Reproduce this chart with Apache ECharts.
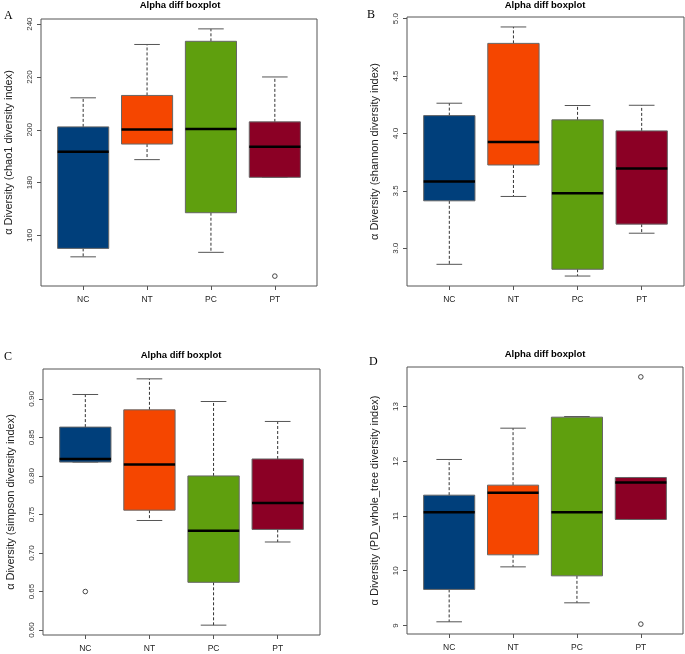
<!DOCTYPE html>
<html>
<head>
<meta charset="utf-8">
<script src="https://cdn.jsdelivr.net/npm/echarts@6/dist/echarts.min.js"></script>
<style>html,body{margin:0;padding:0;background:#fff}#c{width:685px;height:654px}</style>
</head>
<body>
<div id="c"></div>
<script>
// ---------- data ----------
const categories = ['NC', 'NT', 'PC', 'PT'];
// each row: [lower whisker, Q1, median, Q3, upper whisker]
const chao1 = [
  [151.9, 155.1, 191.7, 201.1, 212.1],
  [188.7, 194.6, 200.1, 213.0, 232.3],
  [153.6, 168.6, 200.3, 233.5, 238.2],
  [182.0, 182.0, 193.6, 203.0, 220.0]
];
const chao1Outliers = [['PT', 144.6]];
const shannon = [
  [2.860, 3.413, 3.582, 4.155, 4.263],
  [3.451, 3.725, 3.926, 4.784, 4.927],
  [2.758, 2.817, 3.480, 4.118, 4.243],
  [3.131, 3.210, 3.695, 4.022, 4.245]
];
const shannonOutliers = [];
const simpson = [
  [0.8180, 0.8180, 0.8220, 0.8634, 0.9057],
  [0.7422, 0.7556, 0.8147, 0.8858, 0.9260],
  [0.6064, 0.6620, 0.7290, 0.8000, 0.8966],
  [0.7143, 0.7306, 0.7650, 0.8220, 0.8707]
];
const simpsonOutliers = [['NC', 0.650]];
const pdTree = [
  [9.066, 9.658, 11.070, 11.380, 12.032],
  [10.070, 10.290, 11.422, 11.563, 12.604],
  [9.413, 9.906, 11.070, 12.805, 12.817],
  [10.936, 10.936, 11.612, 11.703, 11.703]
];
const pdTreeOutliers = [['PT', 13.541], ['PT', 9.024]];
const ticksA = [160, 180, 200, 220, 240];
const ticksB = [3.0, 3.5, 4.0, 4.5, 5.0];
const ticksC = [0.60, 0.65, 0.70, 0.75, 0.80, 0.85, 0.90];
const ticksD = [9, 10, 11, 12, 13];
const titleText = 'Alpha diff boxplot';
const yNames = [
  'α Diversity (chao1 diversity index)',
  'α Diversity (shannon diversity index)',
  'α Diversity (simpson diversity index)',
  'α Diversity (PD_whole_tree diversity index)'
];
const panelLetters = ['A', 'B', 'C', 'D'];

// ---------- styles / layout ----------
const boxColors = ['#003F7B', '#F54600', '#5F9F0E', '#8B0025'];
const FONT = '"Liberation Sans", Arial, Helvetica, sans-serif';
const panels = [
  { stats: chao1, out: chao1Outliers, ticks: ticksA, dec: 0, grid: { left: 41, top: 19, width: 276, height: 267 } },
  { stats: shannon, out: shannonOutliers, ticks: ticksB, dec: 1, grid: { left: 407, top: 17, width: 277, height: 269 } },
  { stats: simpson, out: simpsonOutliers, ticks: ticksC, dec: 2, grid: { left: 43, top: 369, width: 277, height: 266 } },
  { stats: pdTree, out: pdTreeOutliers, ticks: ticksD, dec: 0, grid: { left: 407, top: 367, width: 276, height: 267 } }
];
const titlePos = [[180, 0], [545, 0], [181, 350], [545, 349]];
const letterPos = [[4, 10], [367, 9], [4, 351], [369, 356]];

function renderBox(params, api) {
  const x = api.value(0);
  const lo = api.value(1), q1 = api.value(2), med = api.value(3), q3 = api.value(4), hi = api.value(5);
  const color = boxColors[params.dataIndex];
  const cx = api.coord([x, q1])[0];
  const xL = api.coord([x - 0.4, q1])[0], xR = api.coord([x + 0.4, q1])[0];
  const cL = api.coord([x - 0.2, q1])[0], cR = api.coord([x + 0.2, q1])[0];
  const yLo = api.coord([x, lo])[1], yQ1 = api.coord([x, q1])[1], yMed = api.coord([x, med])[1];
  const yQ3 = api.coord([x, q3])[1], yHi = api.coord([x, hi])[1];
  const dash = { stroke: '#333', lineWidth: 1, lineDash: [3, 2] };
  const cap = { stroke: '#555', lineWidth: 1 };
  return {
    type: 'group',
    children: [
      { type: 'line', shape: { x1: cx, y1: yQ3, x2: cx, y2: yHi }, style: dash },
      { type: 'line', shape: { x1: cx, y1: yQ1, x2: cx, y2: yLo }, style: dash },
      { type: 'line', shape: { x1: cL, y1: yHi, x2: cR, y2: yHi }, style: cap },
      { type: 'line', shape: { x1: cL, y1: yLo, x2: cR, y2: yLo }, style: cap },
      { type: 'rect', shape: { x: xL, y: yQ3, width: xR - xL, height: yQ1 - yQ3 }, style: { fill: color, stroke: '#666', lineWidth: 1 } },
      { type: 'line', shape: { x1: xL, y1: yMed, x2: xR, y2: yMed }, style: { stroke: '#000', lineWidth: 2.5 } }
    ]
  };
}

function renderOutlier(params, api) {
  const p = api.coord([api.value(0), api.value(1)]);
  return { type: 'circle', shape: { cx: p[0], cy: p[1], r: 2.3 }, style: { fill: '#fff', stroke: '#333', lineWidth: 0.9 } };
}

const grids = [], xAxes = [], yAxes = [], series = [], titles = [];
panels.forEach((p, i) => {
  const all = [];
  p.stats.forEach(s => all.push(...s));
  p.out.forEach(o => all.push(o[1]));
  const mn = Math.min(...all), mx = Math.max(...all), r = mx - mn;
  grids.push(Object.assign({ show: true, borderColor: '#555', borderWidth: 1, backgroundColor: 'transparent' }, p.grid));
  xAxes.push({
    type: 'value', gridIndex: i, min: 0.34, max: 4.66,
    axisLine: { show: false },
    splitLine: { show: false },
    axisTick: { show: true, length: 4, lineStyle: { color: '#555' }, customValues: [1, 2, 3, 4] },
    axisLabel: { customValues: [1, 2, 3, 4], formatter: v => categories[Math.round(v) - 1], fontSize: 8.5, color: '#222', margin: 9, fontFamily: FONT }
  });
  yAxes.push({
    type: 'value', gridIndex: i, min: mn - 0.04 * r, max: mx + 0.04 * r,
    axisLine: { show: false },
    splitLine: { show: false },
    axisTick: { show: true, length: 4, lineStyle: { color: '#555' }, customValues: p.ticks },
    axisLabel: { customValues: p.ticks, rotate: 90, formatter: v => Number(v).toFixed(p.dec), fontSize: 8, color: '#333', margin: 7, fontFamily: FONT },
    name: yNames[i], nameLocation: 'middle', nameRotate: 90, nameGap: 27,
    nameTextStyle: { fontSize: 11, color: '#222', fontFamily: FONT }
  });
  series.push({
    type: 'custom', xAxisIndex: i, yAxisIndex: i, renderItem: renderBox,
    data: p.stats.map((s, k) => [k + 1].concat(s)),
    encode: { x: 0, y: [1, 2, 3, 4, 5] }, clip: false, silent: true
  });
  series.push({
    type: 'custom', xAxisIndex: i, yAxisIndex: i, renderItem: renderOutlier,
    data: p.out.map(o => [categories.indexOf(o[0]) + 1, o[1]]),
    encode: { x: 0, y: 1 }, clip: false, silent: true
  });
  titles.push({
    text: titleText, left: titlePos[i][0], top: titlePos[i][1], textAlign: 'center', padding: 0,
    textStyle: { fontSize: 9.5, fontWeight: 'bold', color: '#000', fontFamily: FONT }
  });
  titles.push({
    text: panelLetters[i], left: letterPos[i][0], top: letterPos[i][1], padding: 0,
    textStyle: { fontSize: 12, fontWeight: 'normal', color: '#000', fontFamily: '"Liberation Serif", "Times New Roman", serif' }
  });
});

const chart = echarts.init(document.getElementById('c'), null, { renderer: 'canvas' });
chart.setOption({
  animation: false,
  backgroundColor: '#fff',
  title: titles,
  grid: grids,
  xAxis: xAxes,
  yAxis: yAxes,
  series: series
});
</script>
</body>
</html>
